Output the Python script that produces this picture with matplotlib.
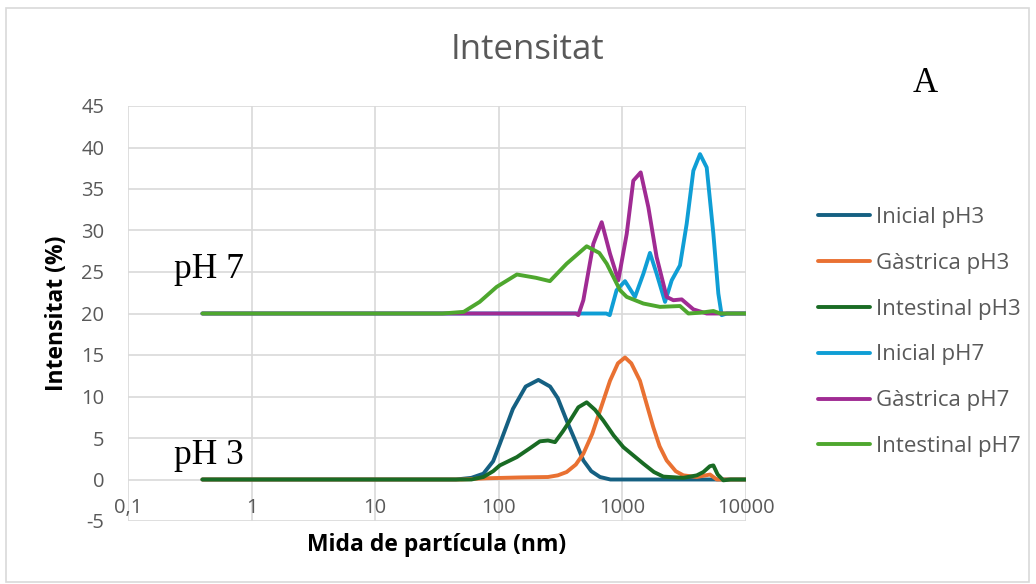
import matplotlib
matplotlib.use("Agg")
import matplotlib.pyplot as plt
from matplotlib.patches import Rectangle
from matplotlib.ticker import FixedLocator, FixedFormatter, NullLocator

# particle size (nm) / intensity (%) read per sample; pH 7 series sit on a +20 offset
inicial_ph3_x = [0.4, 45, 60, 75, 90, 102, 130, 165, 209, 260, 300, 354, 420, 483, 560, 659, 800, 10000]
inicial_ph3_y = [0, 0, 0.2, 0.7, 2.2, 4.3, 8.5, 11.2, 12.0, 11.2, 9.8, 7.1, 4.5, 2.3, 1.0, 0.3, 0, 0]

gastrica_ph3_x = [0.4, 50, 80, 150, 250, 300, 354, 420, 483, 570, 659, 794, 920, 1050, 1180,
                  1387, 1570, 1778, 2000, 2280, 2700, 3111, 4000, 5117, 5800, 10000]
gastrica_ph3_y = [0, 0, 0.15, 0.25, 0.3, 0.5, 0.9, 1.8, 3.1, 5.5, 8.3, 11.9, 14.0, 14.7, 14.0,
                  11.9, 9.1, 6.3, 4.0, 2.3, 1.0, 0.5, 0.3, 0.6, 0, 0]

intestinal_ph3_x = [0.4, 60, 75, 90, 102, 140, 180, 215, 250, 285, 330, 377, 440, 514, 600, 701,
                    850, 1018, 1250, 1479, 1800, 2143, 3111, 4000, 4519, 5100, 5445, 5900, 6560, 7500, 10000]
intestinal_ph3_y = [0, 0, 0.3, 1.0, 1.7, 2.7, 3.8, 4.6, 4.7, 4.5, 5.8, 7.1, 8.7, 9.3, 8.4, 7.1,
                    5.3, 3.9, 2.8, 1.9, 0.9, 0.35, 0.2, 0.5, 0.9, 1.6, 1.7, 0.6, -0.1, 0, 0]

inicial_ph7_x = [0.4, 740, 790, 897, 1050, 1264, 1479, 1671, 1892, 2213, 2506, 2924, 3311, 3750,
                 4246, 4808, 5445, 5973, 6356, 7000, 10000]
inicial_ph7_y = [20, 20, 19.8, 22.8, 23.9, 22.0, 24.8, 27.3, 24.8, 21.4, 24.0, 25.8, 30.8, 37.2,
                 39.2, 37.6, 29.6, 22.4, 19.8, 20, 20]

gastrica_ph7_x = [0.4, 420, 440, 483, 582, 680, 794, 927, 1084, 1225, 1406, 1622, 1892, 2280,
                  2583, 3020, 3750, 4808, 10000]
gastrica_ph7_y = [20, 20, 19.8, 21.6, 28.4, 31.0, 27.2, 24.0, 29.6, 36.0, 37.0, 32.8, 26.8, 22.0,
                  21.6, 21.7, 20.5, 20, 20]

intestinal_ph7_x = [0.4, 35, 52, 70, 96, 140, 200, 259, 354, 514, 650, 747, 957, 1084, 1479,
                    2014, 2924, 3420, 4300, 5445, 6200, 10000]
intestinal_ph7_y = [20, 20, 20.2, 21.4, 23.2, 24.7, 24.3, 23.9, 26.0, 28.1, 27.3, 26.0, 22.8,
                    22.0, 21.2, 20.8, 20.9, 20.0, 20.1, 20.3, 20, 20]

series = [
    ("Inicial pH3", inicial_ph3_x, inicial_ph3_y, "#156082"),
    ("Gàstrica pH3", gastrica_ph3_x, gastrica_ph3_y, "#E97132"),
    ("Intestinal pH3", intestinal_ph3_x, intestinal_ph3_y, "#196B24"),
    ("Inicial pH7", inicial_ph7_x, inicial_ph7_y, "#0F9ED5"),
    ("Gàstrica pH7", gastrica_ph7_x, gastrica_ph7_y, "#A02B93"),
    ("Intestinal pH7", intestinal_ph7_x, intestinal_ph7_y, "#4EA72E"),
]

x_ticks = [0.1, 1, 10, 100, 1000, 10000]
x_tick_labels = ["0,1", "1", "10", "100", "1000", "10000"]
y_ticks = [-5, 0, 5, 10, 15, 20, 25, 30, 35, 40, 45]
y_tick_labels = [str(v) for v in y_ticks]

plt.rcParams["font.family"] = ["Open Sans", "DejaVu Sans"]
grey = "#595959"

fig = plt.figure(figsize=(10.36, 5.84), dpi=100)
ax = fig.add_axes([128 / 1036, 1 - 521 / 584, 618 / 1036, 415 / 584])

for name, xs, ys, col in series:
    ax.plot(xs, ys, color=col, lw=2.8, label=name, solid_capstyle="round", solid_joinstyle="round")

ax.set_xscale("log")
ax.set_xlim(0.1, 10000)
ax.set_ylim(-5, 45)
ax.xaxis.set_major_locator(FixedLocator(x_ticks))
ax.xaxis.set_major_formatter(FixedFormatter(x_tick_labels))
ax.xaxis.set_minor_locator(NullLocator())
ax.yaxis.set_major_locator(FixedLocator(y_ticks))
ax.yaxis.set_major_formatter(FixedFormatter(y_tick_labels))

for s in ax.spines.values():
    s.set_visible(False)
ax.spines["bottom"].set_position(("data", 0))
ax.grid(True, color="#d9d9d9", lw=1.2)
ax.set_axisbelow(True)
ax.tick_params(axis="x", length=0, pad=13, labelsize=14.5, labelcolor=grey)
ax.tick_params(axis="y", length=0, pad=17, labelsize=14.5, labelcolor=grey)

ax.set_ylabel("Intensitat (%)", fontsize=16.5, fontweight="bold")
ax.yaxis.set_label_coords(-0.095, 0.5)
ax.set_xlabel("Mida de partícula (nm)", fontsize=16.5, fontweight="bold")
ax.xaxis.set_label_coords(0.5, -0.03)

fig.text(527 / 1036, 1 - 50 / 584, "Intensitat", ha="center", va="center", fontsize=25, color=grey)
fig.text(925 / 1036, 1 - 83 / 584, "A", ha="center", va="center", fontsize=25,
         family="Liberation Serif", color="black")
fig.text(174 / 1036, 1 - 270 / 584, "pH 7", ha="left", va="center", fontsize=25.5,
         family="Liberation Serif", color="black")
fig.text(174 / 1036, 1 - 455 / 584, "pH 3", ha="left", va="center", fontsize=25.5,
         family="Liberation Serif", color="black")

leg = fig.legend(loc="center left", bbox_to_anchor=(818 / 1036, 1 - 332 / 584), frameon=False,
                 fontsize=16, handlelength=2.34, handletextpad=0.27, labelspacing=1.12, borderpad=0,
                 borderaxespad=0)
for t in leg.get_texts():
    t.set_color(grey)

fig.patches.append(Rectangle((6 / 1036, 2 / 584), 1023 / 1036, 574 / 584, transform=fig.transFigure,
                             fill=False, edgecolor="#d9d9d9", lw=1.2))

plt.savefig("out.png", dpi=100)
